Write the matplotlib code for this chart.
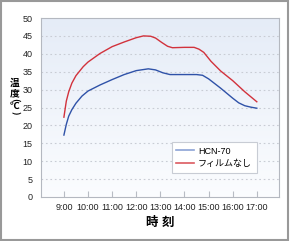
import numpy as np
import matplotlib
matplotlib.use('Agg')
import matplotlib.pyplot as plt
from matplotlib.patches import Rectangle
from matplotlib.lines import Line2D

plt.rcParams['font.family'] = ['Liberation Sans', 'Noto Sans CJK JP']

# 時刻 (時間, 小数) と温度の読み取り値
hcn_t = [9.0, 9.1, 9.2, 9.33, 9.5, 9.75, 10.0, 10.5, 11.0, 11.5, 12.0, 12.5,
         12.8, 13.1, 13.4, 14.0, 14.5, 14.75, 15.0, 15.5, 16.0, 16.25, 16.5,
         16.75, 17.0]
hcn_v = [17.3, 20.3, 22.6, 24.4, 26.2, 28.2, 29.6, 31.3, 32.8, 34.2, 35.3, 35.8,
         35.5, 34.7, 34.2, 34.2, 34.2, 34.0, 33.0, 30.4, 27.6, 26.3, 25.5,
         25.1, 24.8]

film_t = [9.0, 9.1, 9.2, 9.33, 9.5, 9.8, 10.0, 10.5, 11.0, 11.5, 12.0, 12.3,
          12.6, 12.8, 13.05, 13.3, 13.5, 14.0, 14.4, 14.6, 14.8, 15.1, 15.5,
          16.0, 16.5, 17.0]
film_v = [22.3, 26.8, 29.4, 31.8, 33.9, 36.4, 37.7, 40.1, 42.0, 43.3, 44.5, 45.0,
          44.9, 44.4, 43.2, 42.1, 41.7, 41.8, 41.8, 41.3, 40.4, 37.9, 35.2,
          32.5, 29.4, 26.6]

hours = [9, 10, 11, 12, 13, 14, 15, 16, 17]
hour_labels = ['9:00', '10:00', '11:00', '12:00', '13:00', '14:00', '15:00', '16:00', '17:00']
y_ticks = [0, 5, 10, 15, 20, 25, 30, 35, 40, 45, 50]

fig = plt.figure(figsize=(2.9, 2.41), dpi=100)
ax = fig.add_axes([41/290, 44/241, 238/290, 179/241])

# 背景グラデーション
grad = np.linspace(0, 1, 100).reshape(-1, 1)
top = np.array([0.898, 0.925, 0.969])
bot = np.array([0.985, 0.99, 0.998])
img = bot + (top - bot) * grad[..., None]
ax.imshow(img, extent=[8.05, 17.92, 0, 50], origin='lower', aspect='auto', zorder=0)

for y in y_ticks[1:-1]:
    ax.axhline(y, color='#c8ccd4', lw=0.8, ls=(0, (1.5, 2.5)), zorder=1)

ax.plot(hcn_t, hcn_v, color='#2f52a8', lw=1.0, zorder=3)
ax.plot(film_t, film_v, color='#d2323c', lw=1.0, zorder=3)

ax.set_xlim(8.05, 17.92)
ax.set_ylim(0, 50)
ax.set_xticks(hours)
ax.set_xticklabels(hour_labels)
ax.set_yticks(y_ticks)
ax.tick_params(axis='x', direction='in', length=4, color='#b8bcc4', pad=4,
               labelsize=6.5, labelcolor='#222222')
ax.tick_params(axis='y', length=0, pad=6, labelsize=6.5, labelcolor='#222222')
for s in ax.spines.values():
    s.set_color('#b4b8c0')
    s.set_linewidth(0.8)

handles = [Line2D([], [], color='#8ca3d6', lw=1.2), Line2D([], [], color='#dc5a60', lw=1.2)]
leg = ax.legend(handles, ['HCN-70', 'フィルムなし'], loc='upper left',
                bbox_to_anchor=(0.55, 0.307), fontsize=6.5,
                frameon=True, fancybox=False, edgecolor='#c8ccd4', framealpha=1,
                handlelength=1.9, borderpad=0.5, labelspacing=0.4, handletextpad=0.5,
                borderaxespad=0)
leg.get_frame().set_linewidth(0.8)

ax.set_xlabel('時 刻', fontsize=9, fontweight='bold', labelpad=4)

# 縦書きの軸ラベル
cjk = ['Noto Sans CJK JP', 'DejaVu Sans']
fig.text(15/290, 1 - 83/241, '温', fontsize=7, fontweight='bold', ha='center', va='center', family=cjk)
fig.text(15/290, 1 - 93/241, '度', fontsize=7, fontweight='bold', ha='center', va='center', family=cjk)
fig.text(15/290, 1 - 99.5/241, '(', fontsize=6.5, fontweight='bold', rotation=-90,
         ha='center', va='center', family=cjk)
fig.text(15/290, 1 - 106/241, '℃', fontsize=7, fontweight='bold', ha='center', va='center', family=cjk)
fig.text(15/290, 1 - 112.5/241, ')', fontsize=6.5, fontweight='bold', rotation=-90,
         ha='center', va='center', family=cjk)

fig.patches.append(Rectangle((0.004, 0.004), 0.99, 0.99, transform=fig.transFigure,
                             fill=False, edgecolor='#999999', lw=1.5))

fig.savefig('out.png', dpi=100)
